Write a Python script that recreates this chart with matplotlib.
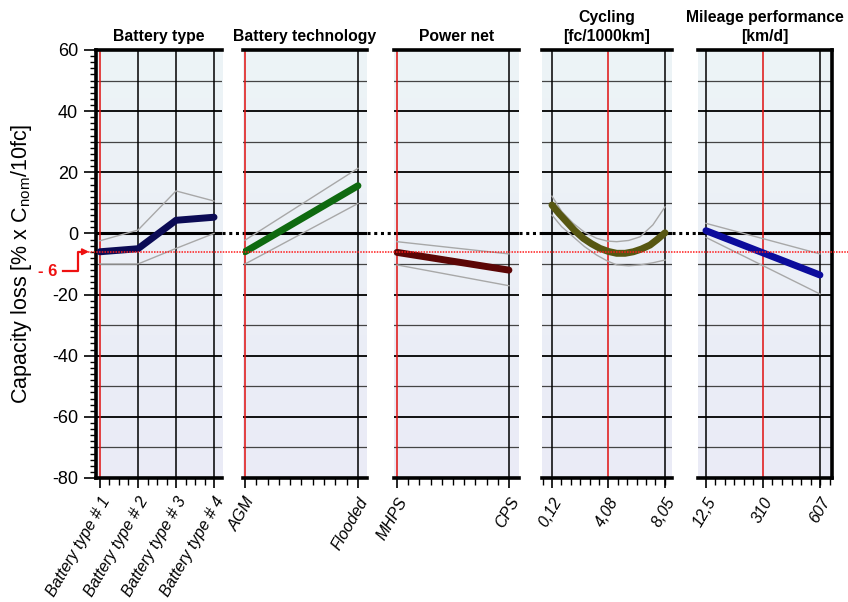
import numpy as np
import matplotlib
matplotlib.use("Agg")
import matplotlib.pyplot as plt
import matplotlib.ticker as ticker
from matplotlib.transforms import blended_transform_factory
from matplotlib.lines import Line2D

plt.rcParams['font.family'] = ['Liberation Sans', 'DejaVu Sans']
plt.rcParams['axes.unicode_minus'] = False

# Battery type
type_labels = ["Battery type # 1", "Battery type # 2", "Battery type # 3", "Battery type # 4"]
type_mean = [-6.0, -5.0, 4.3, 5.3]
type_upper = [-2.4, 1.1, 13.9, 10.6]
type_lower = [-10.0, -10.0, -4.9, 0.0]

# Battery technology
tech_labels = ["AGM", "Flooded"]
tech_mean = [-6.0, 15.6]
tech_upper = [-2.2, 21.3]
tech_lower = [-10.0, 9.8]

# Power net
net_labels = ["MHPS", "CPS"]
net_mean = [-6.2, -12.0]
net_upper = [-2.7, -6.7]
net_lower = [-10.3, -17.1]

# Cycling [fc/1000km]
cyc_ticks = [0.12, 4.08, 8.05]
cyc_tick_labels = ["0,12", "4,08", "8,05"]
cyc_x = [0.12, 0.6, 1.15, 1.7, 2.32, 2.9, 3.49, 4.08, 4.66, 5.25, 5.83, 6.4, 7.0, 7.5, 8.05]
cyc_mean = [9.3, 6.6, 3.8, 1.0, -1.6, -3.4, -4.9, -5.9, -6.5, -6.5, -6.0, -5.1, -3.8, -2.0, 0.2]
cyc_band_x = [0.12, 0.8, 1.61, 2.4, 3.26, 4.0, 4.66, 5.5, 6.3, 7.2, 8.05]
cyc_upper = [12.2, 7.2, 3.3, 0.4, -1.6, -2.5, -2.7, -2.3, -1.1, 2.8, 8.7]
cyc_lower = [6.0, 2.2, -1.1, -4.3, -7.1, -9.0, -10.3, -10.6, -10.3, -9.6, -8.7]

# Mileage performance [km/d]
mil_ticks = [12.5, 310, 607]
mil_tick_labels = ["12,5", "310", "607"]
mil_mean = [0.9, -13.6]
mil_upper = [3.3, -6.7]
mil_lower = [-1.3, -19.8]

ref_level = -6

W, H = 848, 602
fig = plt.figure(figsize=(W / 100, H / 100), dpi=100)

top_px, bot_px = 50, 478


def make_ax(x0, x1):
    return fig.add_axes([x0 / W, 1 - bot_px / H, (x1 - x0) / W, (bot_px - top_px) / H])


# gradient for the panel backgrounds
grad = np.linspace(0, 1, 256).reshape(-1, 1)
bg_cmap = matplotlib.colors.LinearSegmentedColormap.from_list("bg", ["#edf4f6", "#eaebf7"])

panels = [
    dict(px=(96, 222), xlim=(-0.105, 3.21), ticks=[0, 1, 2, 3], labels=type_labels,
         ref=0, minor=0.25, title="Battery type", color="#0b0b55",
         mean=(range(4), type_mean), up=(range(4), type_upper), lo=(range(4), type_lower)),
    dict(px=(243, 367), xlim=(-0.018, 1.08), ticks=[0, 1], labels=tech_labels,
         ref=0, minor=0.1, title="Battery technology", color="#0f6a10",
         mean=([0, 1], tech_mean), up=([0, 1], tech_upper), lo=([0, 1], tech_lower)),
    dict(px=(394, 519), xlim=(-0.027, 1.09), ticks=[0, 1], labels=net_labels,
         ref=0, minor=0.1, title="Power net", color="#5c0606",
         mean=([0, 1], net_mean), up=([0, 1], net_upper), lo=([0, 1], net_lower)),
    dict(px=(542, 672), xlim=(-0.58, 8.54), ticks=cyc_ticks, labels=cyc_tick_labels,
         ref=cyc_ticks[1], minor=(cyc_ticks[1] - cyc_ticks[0]) / 6, title="Cycling\n[fc/1000km]",
         color="#575712",
         mean=(cyc_x, cyc_mean), up=(cyc_band_x, cyc_upper), lo=(cyc_band_x, cyc_lower)),
    dict(px=(698, 832), xlim=(-29, 670), ticks=mil_ticks, labels=mil_tick_labels,
         ref=mil_ticks[1], minor=(mil_ticks[1] - mil_ticks[0]) / 6,
         title="Mileage performance\n[km/d]", color="#0c0c9c",
         mean=([mil_ticks[0], mil_ticks[2]], mil_mean),
         up=([mil_ticks[0], mil_ticks[2]], mil_upper),
         lo=([mil_ticks[0], mil_ticks[2]], mil_lower)),
]

axes = []
for i, p in enumerate(panels):
    ax = make_ax(*p["px"])
    axes.append(ax)
    ax.imshow(grad, extent=[0, 1, 0, 1], transform=ax.transAxes, aspect="auto",
              cmap=bg_cmap, zorder=0, interpolation="bilinear")
    ax.set_xlim(*p["xlim"])
    ax.set_ylim(-80, 60)

    # horizontal grid
    for yv in range(-80, 61, 10):
        if yv == 0:
            ax.axhline(yv, color="black", lw=2.2, zorder=2)
        elif yv % 20 == 0:
            ax.axhline(yv, color="black", lw=1.3, zorder=1)
        else:
            ax.axhline(yv, color="#444444", lw=0.9, zorder=1)
    # vertical grid, reference level in red
    for xv in p["ticks"]:
        if xv == p["ref"]:
            ax.axvline(xv, color="#e01010", lw=1.1, zorder=2)
        else:
            ax.axvline(xv, color="black", lw=1.1, zorder=1)

    ax.plot(*p["up"], color="#a8a8a8", lw=1.0, zorder=3)
    ax.plot(*p["lo"], color="#a8a8a8", lw=1.0, zorder=3)
    ax.plot(*p["mean"], color=p["color"], lw=5.0, solid_capstyle="round",
            solid_joinstyle="round", zorder=4)

    ax.set_xticks(p["ticks"])
    ax.set_xticklabels(p["labels"], rotation=60, ha="right", va="top",
                       rotation_mode="anchor", fontsize=11.5, style="italic")
    x0, x1 = p["xlim"]
    first = p["ticks"][0]
    mins = np.arange(first - p["minor"] * 20, x1, p["minor"])
    mins = mins[(mins >= x0) & (mins <= x1)]
    ax.xaxis.set_minor_locator(ticker.FixedLocator(mins))
    ax.tick_params(axis="x", which="major", direction="out", length=7, width=1.2, pad=5)
    ax.tick_params(axis="x", which="minor", direction="out", length=5, width=1.0)

    ax.spines["bottom"].set_linewidth(2.6)
    ax.spines["top"].set_linewidth(2.6)
    ax.spines["left"].set_visible(i == 0)
    ax.spines["right"].set_visible(i == len(panels) - 1)
    ax.spines["left"].set_linewidth(2.6)
    ax.spines["right"].set_linewidth(2.6)

    if i == 0:
        ax.yaxis.set_major_locator(ticker.MultipleLocator(20))
        ax.yaxis.set_minor_locator(ticker.MultipleLocator(2))
        ax.tick_params(axis="y", which="major", direction="out", length=9, width=1.2,
                       labelsize=13, pad=4)
        ax.tick_params(axis="y", which="minor", direction="out", length=4, width=1.0)
    else:
        ax.set_yticks([])

    ax.set_title(p["title"], fontsize=11.3, fontweight="bold", pad=6.5, linespacing=1.3)

fig.text(22 / W, 1 - (top_px + bot_px) / 2 / H, r"Capacity loss [% x C$_{\mathregular{nom}}$/10fc]",
         rotation=90, ha="center", va="center", fontsize=15.5)

# dotted zero-line connectors between the panels
ytr = blended_transform_factory(fig.transFigure, axes[0].transData)
for a, b in zip(panels[:-1], panels[1:]):
    fig.add_artist(Line2D([a["px"][1] / W, b["px"][0] / W], [0, 0], transform=ytr,
                          color="black", lw=2.2, ls=(0, (1, 1.2)), zorder=5))

# dotted red reference line across all panels
fig.add_artist(Line2D([88 / W, 1.0], [ref_level, ref_level], transform=ytr,
                      color="#ff1a1a", lw=1.1, ls=(0, (1, 0.8)), zorder=6))

# "- 6" marker with bent arrow
lab_y = ref_level - 6.3
fig.text(48 / W, lab_y, "- 6", transform=ytr, color="#ee1111", fontsize=12,
         fontweight="bold", ha="center", va="center")
fig.add_artist(Line2D([63 / W, 78 / W, 78 / W, 84 / W], [lab_y, lab_y, ref_level, ref_level],
                      transform=ytr, color="#ee1111", lw=1.6))
axes[0].annotate("", xy=(89 / W, ref_level), xycoords=ytr, xytext=(82 / W, ref_level),
                 textcoords=ytr,
                 arrowprops=dict(arrowstyle="-|>", color="#ee1111", lw=1.4,
                                 mutation_scale=9, shrinkA=0, shrinkB=0),
                 annotation_clip=False)

fig.savefig("out.png", dpi=100)
